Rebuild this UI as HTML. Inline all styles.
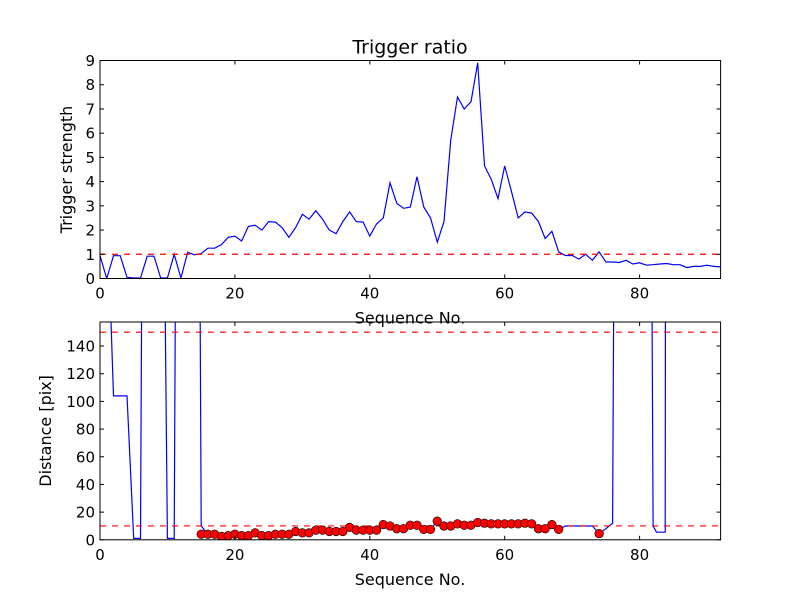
<!DOCTYPE html>
<html><head><meta charset="utf-8"><style>
body{margin:0;background:#fff;}
svg text{font-family:"DejaVu Sans","Liberation Sans",sans-serif;fill:#000;}
</style></head><body>
<svg id="chart" width="800" height="600" xmlns="http://www.w3.org/2000/svg">
<defs>
<clipPath id="c1"><rect x="100" y="60.5" width="620.6" height="218"/></clipPath>
<clipPath id="c2"><rect x="100" y="322" width="620.6" height="217.8"/></clipPath>
</defs>
<rect width="800" height="600" fill="#fff"/>
<g id="top"></g>
<g id="bot"></g>
</svg>
<script>
const ratioValues=[0.95,0,0.94,0.94,0.05,0.02,0.02,0.92,0.92,0.02,0.02,1.0,0.02,1.08,0.98,1.03,1.25,1.25,1.4,1.7,1.75,1.55,2.15,2.2,2.0,2.35,2.33,2.1,1.7,2.1,2.65,2.45,2.8,2.45,2.0,1.85,2.35,2.75,2.35,2.33,1.75,2.25,2.5,3.95,3.1,2.9,2.95,4.2,2.95,2.5,1.5,2.35,5.7,7.5,7.0,7.3,8.9,4.65,4.1,3.3,4.65,3.6,2.5,2.75,2.7,2.35,1.65,1.95,1.1,0.95,0.95,0.8,1.0,0.75,1.1,0.68,0.68,0.66,0.75,0.6,0.65,0.55,0.57,0.6,0.62,0.57,0.57,0.45,0.5,0.5,0.55,0.5,0.48];
const markerX=[15,16,17,18,19,20,21,22,23,24,25,26,27,28,29,30,31,32,33,34,35,36,37,38,39,40,41,42,43,44,45,46,47,48,49,50,51,52,53,54,55,56,57,58,59,60,61,62,63,64,65,66,67,68,74];
const markerY=[4,4,4,2.5,3,4,3,3,5,3,3,4,4,4,6,5,5,7,7,6,6,6,9,7,7,7,7,11,10,8,8,10.5,10.5,7.5,7.5,13.5,10,10,11.5,10.5,10.5,12.5,12,11.5,11.5,11.5,11.5,11.5,12,11.5,8,8,11,7.5,4.5];
const lineX=[1,2,3,4,5,6,7,9,10,11,12,14,15,16,17,18,19,20,21,22,23,24,25,26,27,28,29,30,31,32,33,34,35,36,37,38,39,40,41,42,43,44,45,46,47,48,49,50,51,52,53,54,55,56,57,58,59,60,61,62,63,64,65,66,67,68,69,70,71,72,73,74,75,76,77,81,82,82.5,83.8,84];
const lineY=[250,104,104,104,1,1,1000,500,1,1,1000,1000,10,4,4,2.5,3,4,3,3,5,3,3,4,4,4,6,5,5,7,7,6,6,6,9,7,7,7,7,11,10,8,8,10.5,10.5,7.5,7.5,13.5,10,10,11.5,10.5,10.5,12.5,12,11.5,11.5,11.5,11.5,11.5,12,11.5,8,8,11,7.5,10,10,10,10,10,4.5,8,12,1000,1000,10,5.5,5.5,1000];
const xTicks=[0,20,40,60,80];
const topYTicks=[0,1,2,3,4,5,6,7,8,9];
const botYTicks=[0,20,40,60,80,100,120,140];
const thresholds2=[10,150];

const NS="http://www.w3.org/2000/svg";
function mk(p,t,a){const e=document.createElementNS(NS,t);for(const k in a)e.setAttribute(k,a[k]);p.appendChild(e);return e;}
const X=v=>100+v*6.745;
const Y1=v=>278.5-v*24.22;
const Y2=v=>539.8-v*1.384;

function axes(g,top,bot,yT,Yf,ylab,ylx,title){
  xTicks.forEach(t=>{
    let l=mk(g,'line',{x1:X(t),x2:X(t),y1:bot,y2:bot-4,stroke:'#000'});
    
    
    mk(g,'line',{x1:X(t),x2:X(t),y1:top,y2:top+4,stroke:'#000'});
    let tx=mk(g,'text',{x:X(t),y:bot+20,'text-anchor':'middle','font-size':15});
    tx.textContent=t;
    
    
  });
  yT.forEach(t=>{
    mk(g,'line',{x1:100,x2:104,y1:Yf(t),y2:Yf(t),stroke:'#000'});
    mk(g,'line',{x1:720.6,x2:716.6,y1:Yf(t),y2:Yf(t),stroke:'#000'});
    let tx=mk(g,'text',{x:95,y:Yf(t)+5.5,'text-anchor':'end','font-size':15});
    tx.textContent=t;
    
    
  });
  let xl=mk(g,'text',{x:410,y:bot+45,'text-anchor':'middle','font-size':16});
  xl.textContent='Sequence No.';
  
  
  let yl=mk(g,'text',{x:ylx,y:(top+bot)/2,'text-anchor':'middle','font-size':16,transform:`rotate(-90 ${ylx} ${(top+bot)/2})`});
  yl.textContent=ylab;
  
  
  if(title){let tt=mk(g,'text',{x:410,y:top-7,'text-anchor':'middle','font-size':19});
    tt.textContent=title;
    
    }
}
const g1=document.getElementById('top');
let d=ratioValues.map((v,i)=>(i?'L':'M')+X(i).toFixed(1)+','+Y1(v).toFixed(1)).join('');
let ln=mk(g1,'path',{d:d,fill:'none',stroke:'#0000ff','stroke-width':1.2,'clip-path':'url(#c1)'});


let th=mk(g1,'line',{x1:100,x2:720.6,y1:Y1(1),y2:Y1(1),stroke:'#ff0000','stroke-width':1.2,'stroke-dasharray':'6,6'});


mk(g1,'rect',{x:100,y:60.5,width:620.6,height:218,fill:'none',stroke:'#000'});
axes(g1,60.5,278.5,topYTicks,Y1,'Trigger strength',72,'Trigger ratio');
const g2=document.getElementById('bot');
d=lineX.map((x,i)=>(i?'L':'M')+X(x).toFixed(1)+','+Y2(lineY[i]).toFixed(1)).join('');
ln=mk(g2,'path',{d:d,fill:'none',stroke:'#0000ff','stroke-width':1.2,'clip-path':'url(#c2)'});


thresholds2.forEach(t=>{
  let l=mk(g2,'line',{x1:100,x2:720.6,y1:Y2(t),y2:Y2(t),stroke:'#ff0000','stroke-width':1.2,'stroke-dasharray':'6,6'});
  
  
});
markerX.forEach((x,i)=>{
  let c=mk(g2,'circle',{cx:X(x),cy:Y2(markerY[i]),r:4.3,fill:'#ff0000',stroke:'#000','stroke-width':0.6,'clip-path':'url(#c2)'});
  
  
});
mk(g2,'rect',{x:100,y:322,width:620.6,height:217.8,fill:'none',stroke:'#000'});
axes(g2,322,539.8,botYTicks,Y2,'Distance [pix]',51,null);
</script>
</body></html>
